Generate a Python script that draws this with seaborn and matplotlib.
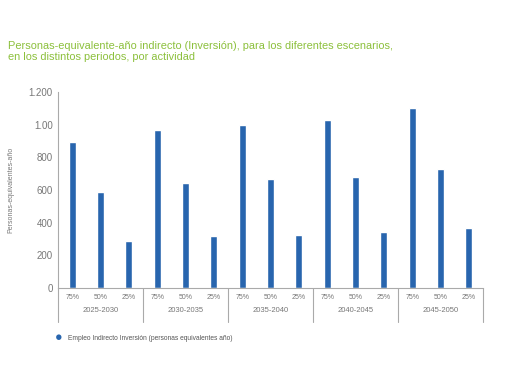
import pandas as pd
import numpy as np
import seaborn as sns
import matplotlib.pyplot as plt
from matplotlib.lines import Line2D

# data
periods = ["2025-2030", "2030-2035", "2035-2040", "2040-2045", "2045-2050"]
scenarios = ["75%", "50%", "25%"]
empleo_75 = [893, 967, 1000, 1030, 1100]
empleo_50 = [590, 641, 667, 681, 726]
empleo_25 = [288, 318, 324, 341, 365]
ytick_values = [0, 200, 400, 600, 800, 1000, 1200]
ytick_labels = ["0", "200", "400", "600", "800", "1.00", "1.200"]

rows = []
for i, p in enumerate(periods):
    for s, vals in zip(scenarios, [empleo_75, empleo_50, empleo_25]):
        rows.append({"periodo": p, "escenario": s, "clave": p + " " + s, "valor": vals[i]})
df = pd.DataFrame(rows)

sns.set_style("white")
plt.rcParams["font.family"] = ["Liberation Sans", "DejaVu Sans"]

fig = plt.figure(figsize=(5.1, 3.82), dpi=100)
ax = fig.add_axes([0.114, 0.246, 0.833, 0.513])

blue = "#2865ae"
grey = "#777777"
sns.barplot(data=df, x="clave", y="valor", color=blue, width=0.25,
            saturation=1, ax=ax)

ax.set_ylim(0, 1200)
ax.set_xlim(-0.5, len(df) - 0.5)
ax.set_yticks(ytick_values)
ax.set_yticklabels(ytick_labels, fontsize=7, color=grey)
ax.set_xticks(range(len(df)))
ax.set_xticklabels(df["escenario"], fontsize=5, color=grey)
ax.tick_params(axis="both", length=0, pad=4)
ax.set_xlabel("")
ax.set_ylabel("Personas-equivalentes-año", fontsize=5, color=grey, labelpad=10)

for side in ["top", "right"]:
    ax.spines[side].set_visible(False)
for side in ["left", "bottom"]:
    ax.spines[side].set_color("#aaaaaa")
    ax.spines[side].set_linewidth(0.8)

# group separators and period labels under the axis
trans = ax.get_xaxis_transform()
for k in range(len(periods) + 1):
    xpos = k * 3 - 0.5
    ax.add_line(Line2D([xpos, xpos], [0, -0.175], transform=trans,
                       color="#aaaaaa", lw=0.8, clip_on=False))
for k, p in enumerate(periods):
    ax.text(k * 3 + 1, -0.115, p, transform=trans, ha="center", va="center",
            fontsize=5.5, color=grey)

# title
fig.text(0.016, 0.866, "Personas-equivalente-año indirecto (Inversión), para los diferentes escenarios,\n"
         "en los distintos periodos, por actividad",
         fontsize=7.9, color="#8cc03c", ha="left", va="center", linespacing=1.15)

# legend
fig.text(0.108, 0.116, "●", fontsize=9, color=blue, ha="left", va="center")
fig.text(0.133, 0.115, "Empleo Indirecto Inversión (personas equivalentes año)",
         fontsize=4.8, color="#555555", ha="left", va="center")

plt.savefig("out.png", dpi=100)
